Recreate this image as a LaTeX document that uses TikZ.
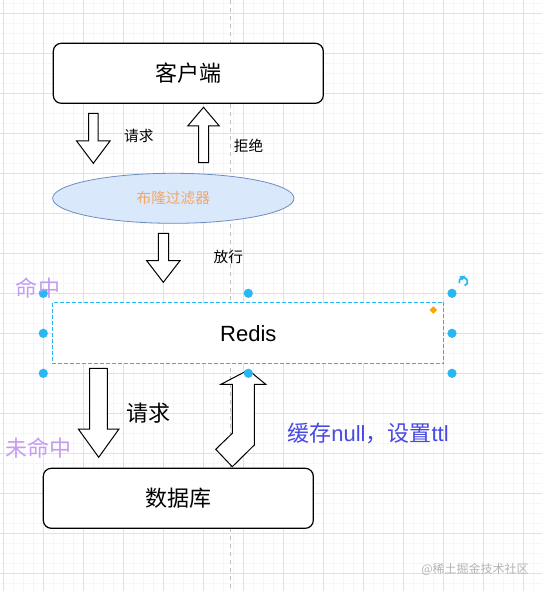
\documentclass[tikz,border=0pt]{standalone}
\usepackage{fontspec}
\setmainfont{Liberation Sans}
\newfontfamily\cjk{Noto Sans CJK SC}
\usetikzlibrary{shapes.geometric}

\definecolor{handleblue}{RGB}{41,182,242}
\definecolor{hitpurple}{RGB}{196,156,240}
\definecolor{ttlblue}{RGB}{72,72,226}
\definecolor{bloomorange}{RGB}{243,166,102}
\definecolor{bloomfill}{RGB}{218,232,252}
\definecolor{bloomdraw}{RGB}{108,142,191}
\definecolor{gridmajor}{RGB}{225,225,225}
\definecolor{gridminor}{RGB}{246,246,246}
\definecolor{guidegray}{RGB}{190,190,190}
\definecolor{markgray}{RGB}{180,180,180}
\definecolor{diamondorange}{RGB}{255,165,0}

\begin{document}
\begin{tikzpicture}[x=0.75pt,y=0.75pt,yscale=-1,xscale=1,
  box/.style={draw=black,line width=0.9pt,fill=white,rounded corners=6pt,inner sep=0pt},
  blockarrow/.style={draw=black,line width=0.75pt,fill=white,line join=miter},
  bigtext/.style={font=\cjk\fontsize{16.5}{18}\selectfont,inner sep=0.75pt},
  smalltext/.style={font=\cjk\fontsize{11}{13}\selectfont,inner sep=0.75pt},
  handle/.style={fill=handleblue}
]
\useasboundingbox (0,0) rectangle (542,591);
\fill[white] (0,0) rectangle (542,591);

%Grid
\foreach \gx in {3.3,13.3,...,543} \draw[gridminor,line width=0.5pt] (\gx,0) -- (\gx,591);
\foreach \gy in {3.3,13.3,...,592} \draw[gridminor,line width=0.5pt] (0,\gy) -- (542,\gy);
\foreach \gx in {3.3,43.3,...,543} \draw[gridmajor,line width=0.6pt] (\gx,0) -- (\gx,591);
\foreach \gy in {13.3,53.3,...,592} \draw[gridmajor,line width=0.6pt] (0,\gy) -- (542,\gy);
%Guide line
\draw[guidegray,dashed,line width=0.6pt] (230.7,0) -- (230.7,591);

%Shape: Rounded Rect
\node[box,minimum width=202.5pt,minimum height=45pt] (client) at (188.3,73.3) {};
%Shape: Ellipse
\node[ellipse,draw=bloomdraw,fill=bloomfill,line width=0.6pt,minimum width=181pt,minimum height=37.5pt,inner sep=0pt] (bloom) at (173.3,198.3) {};
%Shape: Rounded Rect
\node[box,draw=none,minimum width=292.5pt,minimum height=45pt] (redis) at (248.3,333.3) {};
\draw[handleblue,line width=0.8pt,dash pattern=on 3pt off 1.5pt] (redis.north west) rectangle (redis.south east);
%Shape: Rounded Rect
\node[box,minimum width=202.5pt,minimum height=45pt] (db) at (178.3,498.3) {};

%Shape: Down Arrow
\draw[blockarrow] (88.6,113.3) -- (98,113.3) -- (98,141) -- (110,141) -- (93.3,163.3) -- (76.6,141) -- (88.6,141) -- cycle ;
%Shape: Up Arrow
\draw[blockarrow] (203.5,107.3) -- (219.3,126) -- (208.5,126) -- (208.5,162.7) -- (198.5,162.7) -- (198.5,126) -- (187.7,126) -- cycle ;
%Shape: Down Arrow
\draw[blockarrow] (158.3,233.3) -- (168.7,233.3) -- (168.7,260.7) -- (180,260.7) -- (163.3,282.3) -- (146.7,260.7) -- (158.3,260.7) -- cycle ;
%Shape: Down Arrow
\draw[blockarrow] (89.5,368.3) -- (107.3,368.3) -- (107.3,429) -- (119,429) -- (98.7,457.3) -- (78.3,429) -- (89.5,429) -- cycle ;
%Shape: Bent Up Arrow
\draw[blockarrow] (248.3,370) -- (265.7,384.3) -- (254.3,384.3) -- (254.3,445) -- (232.3,466.7) -- (215.7,449.3) -- (232.3,433.3) -- (232.3,384.3) -- (221,384.3) -- cycle ;

%Selection handles
\foreach \hx/\hy in {43.3/293.3,248.3/293.3,452/293.3,43.3/333.3,452/333.3,43.3/373.3,248.3/373.3,452/373.3}
  \fill[handle] (\hx,\hy) circle (4.6);
\draw[diamondorange,fill=diamondorange] (433.3,306.6) -- (436.6,310) -- (433.3,313.4) -- (430,310) -- cycle ;
\draw[handleblue,line width=1.3pt] (463.3,281.7) ++(70:4.2) arc[start angle=70,end angle=-200,radius=4.2];
\fill[handleblue] (459.2,276.4) -- (465.2,275.6) -- (462.2,280.6) -- cycle ;

% Text Node
\draw (client.center) node [bigtext] (clienttxt) {客户端};
% Text Node
\draw (bloom.center) node [smalltext,text=bloomorange] (bloomtxt) {布隆过滤器};
% Text Node
\draw (redis.center) node [bigtext,font=\fontsize{16.5}{18}\selectfont] (redistxt) {Redis};
% Text Node
\draw (db.center) node [bigtext] (dbtxt) {数据库};
% Text Node
\draw (138.8,135.7) node [smalltext] (reqsmall) {请求};
% Text Node
\draw (248.5,145.3) node [smalltext] (reject) {拒绝};
% Text Node
\draw (228.3,256.7) node [smalltext] (pass) {放行};
% Text Node
\draw (38,288.3) node [bigtext,text=hitpurple] (hit) {命中};
% Text Node
\draw (148,412.7) node [bigtext] (reqbig) {请求};
% Text Node
\draw (38,448.3) node [bigtext,text=hitpurple] (miss) {未命中};
% Text Node
\draw (368,433.3) node [bigtext,font=\fontsize{16.5}{18}\selectfont,text=ttlblue] (cachenull) {{\cjk 缓存}null{\cjk ，设置}ttl};
% Text Node
\draw (475,569) node [smalltext,font=\cjk\fontsize{9}{10}\selectfont,text=markgray] (mark) {@稀土掘金技术社区};

\end{tikzpicture}
\end{document}
